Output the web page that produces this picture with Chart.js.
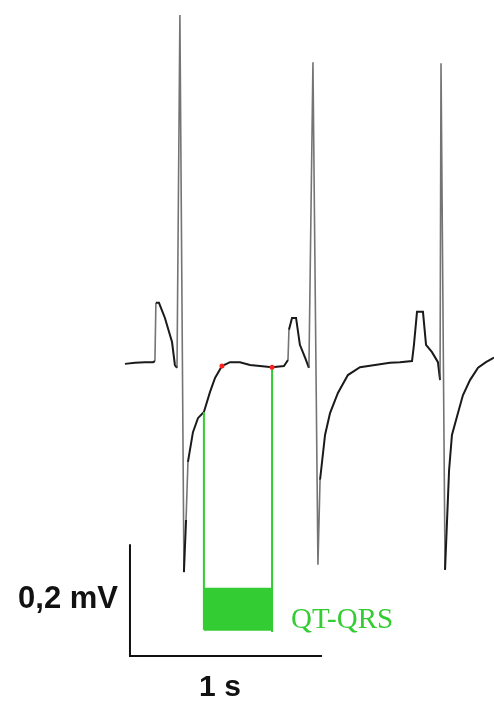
<!DOCTYPE html>
<html>
<head>
<meta charset="utf-8">
<title>ECG QT-QRS</title>
<script src="https://cdn.jsdelivr.net/npm/chart.js@4.4.1/dist/chart.umd.min.js"></script>
<style>
  html, body { margin: 0; padding: 0; background: #fff; }
  canvas { display: block; }
</style>
</head>
<body>
<canvas id="ecg" width="494" height="702"></canvas>
<script>
// ECG trace: time in ms, amplitude in microvolts
const TIME_MS = [0, 52, 104, 146, 156, 161, 177, 208, 245, 260, 271, 286, 307, 318, 328,
  354, 380, 411, 443, 469, 505, 547, 599, 651, 703, 766, 828, 849, 854, 870, 891, 911,
  938, 958, 979, 1005, 1016, 1042, 1068, 1109, 1161, 1224, 1302, 1380, 1432, 1495, 1505,
  1521, 1552, 1568, 1599, 1630, 1641, 1646, 1667, 1688, 1703, 1734, 1760, 1797, 1839,
  1880, 1922];
const VOLT_UV = [2, 4, 5, 5, 7, 111, 111, 84, 41, 0, -5, 625, -370, -277, -173,
  -120, -95, -84, -48, -23, -2, 5, 5, 0, -2, -4, -2, 9, 63, 84, 84, 36,
  13, -5, 541, -357, -205, -125, -86, -50, -18, -4, 0, 4, 5, 7, 36,
  95, 95, 36, 23, 5, -27, 539, -366, -188, -125, -86, -54, -27, -5,
  5, 13];

// QT-QRS interval markers
const QT_START_MS = 411;
const QT_END_MS = 766;
const QT_START_UV = -84;
const QT_END_UV = -4;
const QT_BAR_TOP_UV = -398;
const QT_BAR_BOTTOM_UV = -473;
const RED_MARKS_MS = [505, 766];
const RED_MARKS_UV = [-2, -4];

// calibration bar: 1 s by 0.2 mV
const CAL_T0_MS = 26;
const CAL_V0_UV = -520;
const CAL_T_MS = 1000;
const CAL_V_UV = 200;

const GREEN = "#33cc33";

function pts(xs, ys) {
  return xs.map((x, i) => ({ x, y: ys[i] }));
}

// text labels tied to the calibration bar and the QT box
const labelsPlugin = {
  id: "labels",
  afterDatasetsDraw(chart) {
    const { ctx, scales: { x, y } } = chart;
    ctx.save();
    ctx.fillStyle = "#111";
    ctx.font = "bold 31px 'Liberation Sans', Arial, sans-serif";
    ctx.textBaseline = "middle";
    ctx.textAlign = "right";
    ctx.fillText("0,2 mV", x.getPixelForValue(CAL_T0_MS) - 12,
      y.getPixelForValue(CAL_V0_UV + CAL_V_UV / 2) - 1);
    ctx.font = "bold 30px 'Liberation Sans', Arial, sans-serif";
    ctx.textAlign = "center";
    ctx.textBaseline = "top";
    ctx.fillText("1 s", x.getPixelForValue(CAL_T0_MS + CAL_T_MS / 2) - 6,
      y.getPixelForValue(CAL_V0_UV) + 17);

    ctx.fillStyle = GREEN;
    ctx.font = "29px 'Liberation Serif', 'Times New Roman', serif";
    ctx.textAlign = "left";
    ctx.textBaseline = "alphabetic";
    ctx.fillText("QT-QRS", x.getPixelForValue(QT_END_MS) + 19,
      y.getPixelForValue(QT_BAR_BOTTOM_UV) - 2);
    ctx.restore();
  }
};

new Chart(document.getElementById("ecg"), {
  type: "scatter",
  data: {
    datasets: [
      {
        // red marks sit on top of the trace
        data: pts(RED_MARKS_MS, RED_MARKS_UV),
        order: -1,
        pointRadius: 2.5,
        pointBorderWidth: 0,
        pointBackgroundColor: "#ff2020"
      },
      {
        // QT box top edge, filled down to the bottom edge
        data: pts([QT_START_MS, QT_END_MS], [QT_BAR_TOP_UV, QT_BAR_TOP_UV]),
        showLine: true,
        borderColor: GREEN,
        borderWidth: 0,
        backgroundColor: GREEN,
        fill: "+1",
        pointRadius: 0
      },
      {
        data: pts([QT_START_MS, QT_END_MS], [QT_BAR_BOTTOM_UV, QT_BAR_BOTTOM_UV]),
        showLine: true,
        borderColor: GREEN,
        borderWidth: 2,
        pointRadius: 0
      },
      {
        data: pts([QT_START_MS, QT_START_MS], [QT_START_UV, QT_BAR_BOTTOM_UV]),
        showLine: true,
        borderColor: GREEN,
        borderWidth: 2,
        pointRadius: 0
      },
      {
        data: pts([QT_END_MS, QT_END_MS], [QT_END_UV, QT_BAR_BOTTOM_UV - 4]),
        showLine: true,
        borderColor: GREEN,
        borderWidth: 2,
        pointRadius: 0
      },
      {
        // ECG trace; the steep QRS strokes render thin and grey
        data: pts(TIME_MS, VOLT_UV),
        showLine: true,
        borderColor: "#1a1a1a",
        borderWidth: 2,
        pointRadius: 0,
        tension: 0,
        segment: {
          borderColor: (c) => {
            const dx = Math.abs(c.p1.x - c.p0.x) || 0.1;
            const dy = Math.abs(c.p1.y - c.p0.y);
            return dy / dx > 25 ? "rgba(70,70,70,0.75)" : undefined;
          },
          borderWidth: (c) => {
            const dx = Math.abs(c.p1.x - c.p0.x) || 0.1;
            const dy = Math.abs(c.p1.y - c.p0.y);
            return dy / dx > 25 ? 1.6 : undefined;
          }
        }
      },
      {
        // calibration bar
        data: pts([CAL_T0_MS, CAL_T0_MS, CAL_T0_MS + CAL_T_MS],
          [CAL_V0_UV + CAL_V_UV, CAL_V0_UV, CAL_V0_UV]),
        showLine: true,
        borderColor: "#111",
        borderWidth: 2,
        pointRadius: 0
      }
    ]
  },
  options: {
    responsive: false,
    animation: false,
    events: [],
    layout: { padding: 0, autoPadding: false },
    plugins: {
      legend: { display: false },
      tooltip: { enabled: false }
    },
    scales: {
      x: { type: "linear", display: false, min: -651, max: 1922 },
      y: { type: "linear", display: false, min: -602, max: 652 }
    },
    clip: false
  },
  plugins: [labelsPlugin]
});
</script>
</body>
</html>
